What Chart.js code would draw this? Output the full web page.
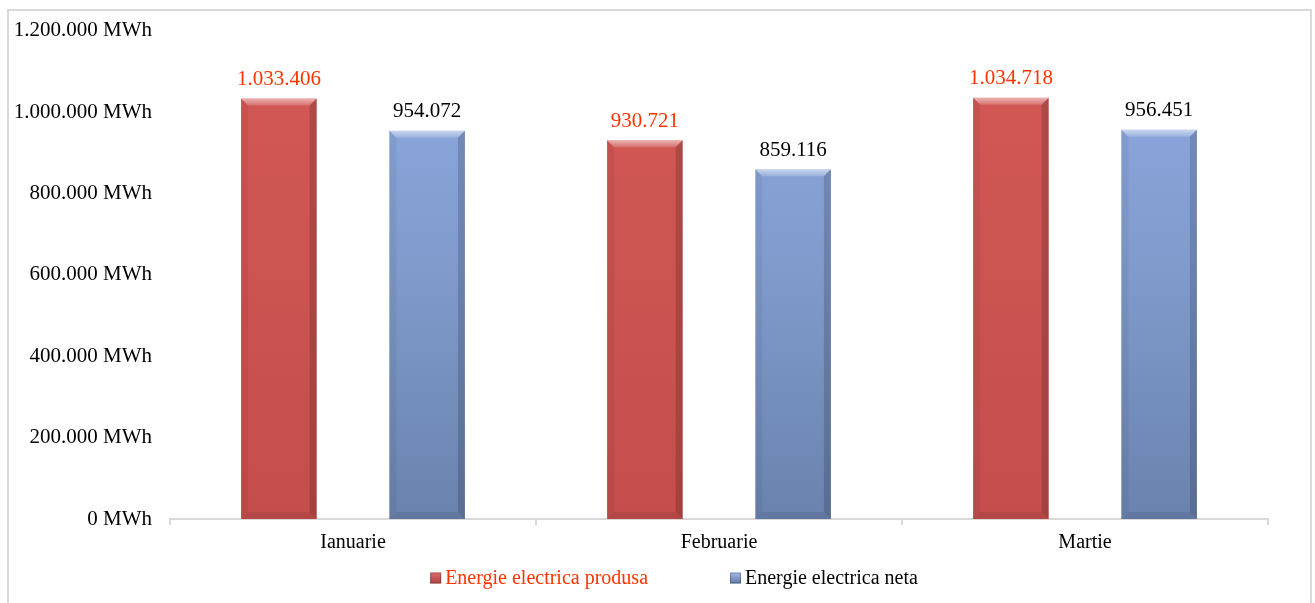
<!DOCTYPE html>
<html>
<head>
<meta charset="utf-8">
<script src="https://cdn.jsdelivr.net/npm/chart.js@4.4.1/dist/chart.umd.min.js"></script>
<style>
  html, body { margin: 0; padding: 0; background: #fff; overflow: hidden; }
  #wrap { position: absolute; left: 0; top: 0; width: 1315px; height: 603px; }
  #frame { position: absolute; left: 7px; top: 9px; width: 1301px; height: 640px;
           border: 2px solid #d9d9d9; pointer-events: none; }
</style>
</head>
<body>
<div id="wrap">
  <div id="frame"></div>
  <canvas id="chart" width="1315" height="603"></canvas>
</div>
<script>
const categories = ["Ianuarie", "Februarie", "Martie"];
const seriesLabels = ["Energie electrica produsa", "Energie electrica neta"];
const energieProdusa = [1033406, 930721, 1034718];
const energieNeta = [954072, 859116, 956451];
const yMax = 1200000;
const yStep = 200000;

const FONT = '"Liberation Serif", "Times New Roman", serif';
const RED_TEXT = "#FF3300";

function fmt(n) {
  return String(Math.round(n)).replace(/\B(?=(\d{3})+(?!\d))/g, ".");
}

function redFill(context) {
  const area = context.chart.chartArea;
  if (!area) return "#CD5452";
  const g = context.chart.ctx.createLinearGradient(0, area.top, 0, area.bottom);
  g.addColorStop(0, "#D35956");
  g.addColorStop(1, "#C44E4C");
  return g;
}

function blueFill(context) {
  const area = context.chart.chartArea;
  if (!area) return "#7E98C8";
  const g = context.chart.ctx.createLinearGradient(0, area.top, 0, area.bottom);
  g.addColorStop(0, "#8FACE2");
  g.addColorStop(0.5, "#7F9ACB");
  g.addColorStop(1, "#6A82AD");
  return g;
}

function poly(ctx, pts, fill) {
  ctx.beginPath();
  ctx.moveTo(pts[0][0], pts[0][1]);
  for (let i = 1; i < pts.length; i++) ctx.lineTo(pts[i][0], pts[i][1]);
  ctx.closePath();
  ctx.fillStyle = fill;
  ctx.fill();
}

// bevel look + value labels above the bars
const barDecor = {
  id: "barDecor",
  afterDatasetsDraw(chart) {
    const ctx = chart.ctx;
    chart.data.datasets.forEach((ds, di) => {
      const meta = chart.getDatasetMeta(di);
      meta.data.forEach((bar, i) => {
        const p = bar.getProps(["x", "y", "base", "width"], true);
        const L = p.x - p.width / 2, R = p.x + p.width / 2, T = p.y, B = p.base;
        const b = 7;
        ctx.save();
        const tg = ctx.createLinearGradient(0, T, 0, T + b);
        tg.addColorStop(0, "rgba(255,255,255,0.55)");
        tg.addColorStop(1, "rgba(255,255,255,0.15)");
        poly(ctx, [[L, T], [R, T], [R - b, T + b], [L + b, T + b]], tg);
        poly(ctx, [[R, T], [R, B], [R - b, B - b], [R - b, T + b]], "rgba(0,0,0,0.16)");
        poly(ctx, [[L, T], [L + b, T + b], [L + b, B - b], [L, B]], "rgba(0,0,0,0.05)");
        poly(ctx, [[L, B], [R, B], [R - b, B - b], [L + b, B - b]], "rgba(0,0,0,0.08)");
        ctx.font = "21px " + FONT;
        ctx.textAlign = "center";
        ctx.textBaseline = "middle";
        ctx.fillStyle = di === 0 ? RED_TEXT : "#000";
        ctx.fillText(fmt(ds.data[i]), p.x, T - 19);
        ctx.restore();
      });
    });
  }
};

// legend drawn under the axis
const bottomLegend = {
  id: "bottomLegend",
  afterDraw(chart) {
    const ctx = chart.ctx;
    ctx.save();
    ctx.font = "20px " + FONT;
    ctx.textBaseline = "middle";
    const box = 11, gapText = 4, gapItem = 82, y = 578;
    const items = chart.data.datasets.map((ds, di) => ({
      text: ds.label,
      w: ctx.measureText(ds.label).width,
      color: di === 0 ? RED_TEXT : "#000",
      base: di === 0 ? ["#D9706E", "#B0403E"] : ["#A4BCE6", "#5F78A6"]
    }));
    const total = items.reduce((s, it) => s + box + gapText + it.w, 0) + gapItem * (items.length - 1);
    let x = 674 - total / 2;
    items.forEach((it) => {
      const g = ctx.createLinearGradient(0, y - box / 2, 0, y + box / 2);
      g.addColorStop(0, it.base[0]);
      g.addColorStop(1, it.base[1]);
      ctx.fillStyle = g;
      ctx.fillRect(x, y - box / 2, box, box);
      ctx.strokeStyle = "rgba(0,0,0,0.25)";
      ctx.lineWidth = 1;
      ctx.strokeRect(x + 0.5, y - box / 2 + 0.5, box - 1, box - 1);
      ctx.fillStyle = it.color;
      ctx.fillText(it.text, x + box + gapText, y + 1);
      x += box + gapText + it.w + gapItem;
    });
    ctx.restore();
  }
};

const ctx = document.getElementById("chart").getContext("2d");
const myChart = new Chart(ctx, {
  type: "bar",
  data: {
    labels: categories,
    datasets: [
      {
        label: seriesLabels[0],
        data: energieProdusa,
        backgroundColor: redFill,
        borderWidth: 0,
        categoryPercentage: 0.81,
        barPercentage: 0.51,
      },
      {
        label: seriesLabels[1],
        data: energieNeta,
        backgroundColor: blueFill,
        borderWidth: 0,
        categoryPercentage: 0.81,
        barPercentage: 0.51,
      },
    ],
  },
  options: {
    responsive: false,
    animation: false,
    devicePixelRatio: 1,
    layout: { padding: { left: 0, right: 47, top: 30, bottom: 44 } },
    plugins: {
      legend: { display: false },
      tooltip: { enabled: false },
    },
    scales: {
      x: {
        grid: {
          display: true,
          drawOnChartArea: false,
          drawTicks: true,
          tickLength: 6,
          color: "#d9d9d9",
          lineWidth: 2,
        },
        border: { display: true, color: "#d9d9d9", width: 2 },
        ticks: {
          color: "#000",
          padding: 6,
          font: { family: FONT, size: 20 },
        },
        afterFit: (scale) => { scale.height = 40; },
      },
      y: {
        min: 0,
        max: yMax,
        grid: { display: false, drawTicks: false },
        border: { display: false },
        ticks: {
          stepSize: yStep,
          color: "#000",
          padding: 18,
          font: { family: FONT, size: 21 },
          callback: (v) => fmt(v) + " MWh",
        },
        afterFit: (scale) => { scale.width = 170; },
      },
    },
  },
  plugins: [barDecor, bottomLegend],
});
</script>
</body>
</html>
